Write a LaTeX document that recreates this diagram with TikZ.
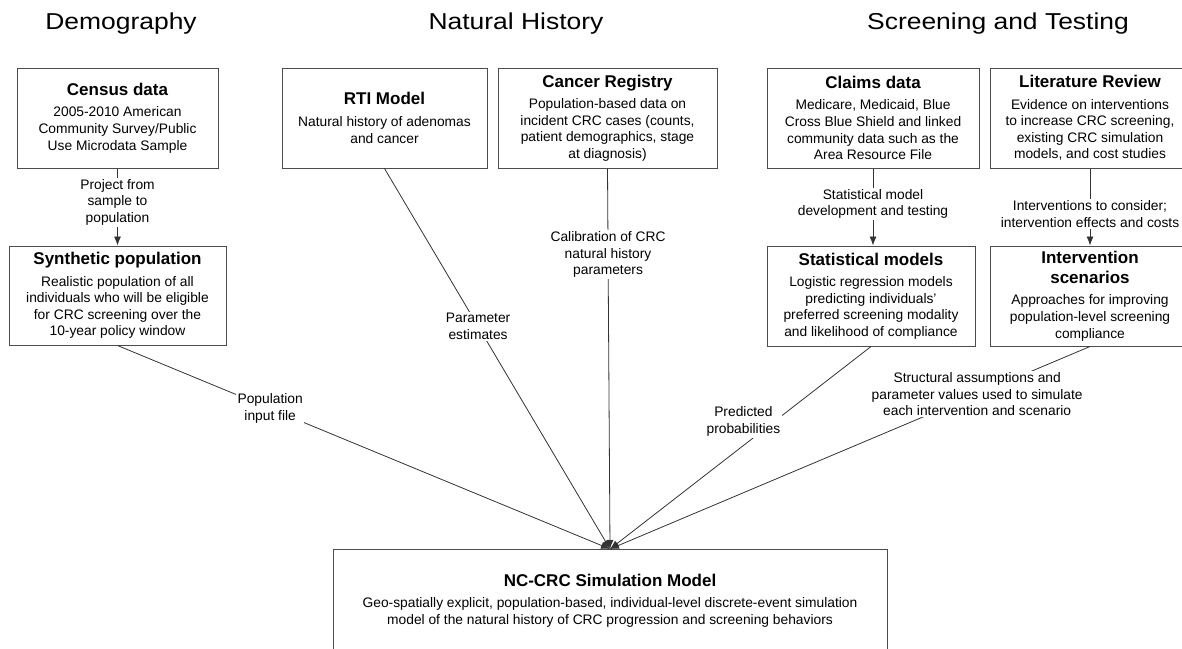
\documentclass[tikz,border=0pt]{standalone}
\usepackage{fontspec}
\setmainfont{Liberation Sans}
\newfontfamily\headfont{Liberation Sans}[FakeStretch=1.15]
\usetikzlibrary{arrows.meta}

\newcommand{\bodyfont}{\fontsize{13.8}{16.6}\selectfont}
\newcommand{\ttl}[1]{{\fontsize{17}{20}\selectfont\bfseries #1}}

\tikzset{
  box/.style={draw=black!70, line width=1pt, align=center, inner sep=0pt,
    minimum height=100pt, font=\bodyfont},
  edge/.style={draw=black!80, line width=0.8pt, ->},
  elabel/.style={fill=white, align=center, inner sep=1.5pt, font=\bodyfont},
  heading/.style={anchor=base, font=\headfont\fontsize{23}{27}\selectfont},
}

\begin{document}
\begin{tikzpicture}[x=1pt, y=-1pt, >={Latex[length=9pt,width=7pt]}]

  \useasboundingbox (0,0) rectangle (1182,648);

  % Ueberschriften
  \node[heading] (hdemo) at (121,29.5) {Demography};
  \node[heading] (hnat)  at (516,29.5) {Natural History};
  \node[heading] (hscr)  at (998,29.5) {Screening and Testing};

  % Demographie
  \node[box, minimum width=201pt] (census) at (117.5,118)
    {\ttl{Census data}\\[5pt]2005-2010 American\\Community Survey/Public\\Use Microdata Sample};
  \node[box, minimum width=217pt, minimum height=99pt] (synth) at (117.5,295.5)
    {\ttl{Synthetic population}\\[5pt]Realistic population of all\\individuals who will be eligible\\for CRC screening over the\\10-year policy window};

  % Natuerlicher Verlauf
  \node[box, minimum width=205pt] (rti) at (384.5,118)
    {\ttl{RTI Model}\\[5pt]Natural history of adenomas\\and cancer};
  \node[box, minimum width=219pt] (cancer) at (607.5,118)
    {\ttl{Cancer Registry}\\[5pt]Population-based data on\\incident CRC cases (counts,\\patient demographics, stage\\at diagnosis)};

  % Screening
  \node[box, minimum width=212pt] (claims) at (873,118)
    {\ttl{Claims data}\\[5pt]Medicare, Medicaid, Blue\\Cross Blue Shield and linked\\community data such as the\\Area Resource File};
  \node[box, minimum width=200pt] (lit) at (1090,118)
    {\ttl{Literature Review}\\[5pt]Evidence on interventions\\to increase CRC screening,\\existing CRC simulation\\models, and cost studies};
  \node[box, minimum width=208pt] (stat) at (871,296)
    {\ttl{Statistical models}\\[5pt]Logistic regression models\\predicting individuals'\\preferred screening modality\\and likelihood of compliance};
  \node[box, minimum width=200pt] (interv) at (1090,296)
    {\ttl{Intervention}\\[3.4pt]\ttl{scenarios}\\[5pt]Approaches for improving\\population-level screening\\compliance};

  % Simulationsmodell
  \node[box, minimum width=554pt, minimum height=102pt, anchor=north] (sim) at (610,549)
    {\ttl{NC-CRC Simulation Model}\\[5pt]Geo-spatially explicit, population-based, individual-level discrete-event simulation\\model of the natural history of CRC progression and screening behaviors};

  % Verbindungen
  \draw[edge] (census.south) -- (synth.north)
    node[elabel, pos=0.44] {Project from\\sample to\\population};
  \draw[edge] (claims.south) -- (claims.south |- stat.north)
    node[elabel, pos=0.46] {Statistical model\\development and testing};
  \draw[edge] (lit.south) -- (interv.north)
    node[elabel, pos=0.59] {Interventions to consider;\\intervention effects and costs};

  \draw[edge] (synth.south) -- (sim.north)
    node[elabel, pos=0.31] {Population\\input file};
  \draw[edge] (rti.south) -- (sim.north)
    node[elabel, pos=0.415] {Parameter\\estimates};
  \draw[edge] (cancer.south) -- (sim.north)
    node[elabel, pos=0.226] {Calibration of CRC\\natural history\\parameters};
  \draw[edge] (stat.south) -- (sim.north)
    node[elabel, pos=0.37, xshift=-31pt] {Predicted\\probabilities};
  \draw[edge] (interv.south) -- (sim.north)
    node[elabel, pos=0.235] {Structural assumptions and\\parameter values used to simulate\\each intervention and scenario};

\end{tikzpicture}
\end{document}
